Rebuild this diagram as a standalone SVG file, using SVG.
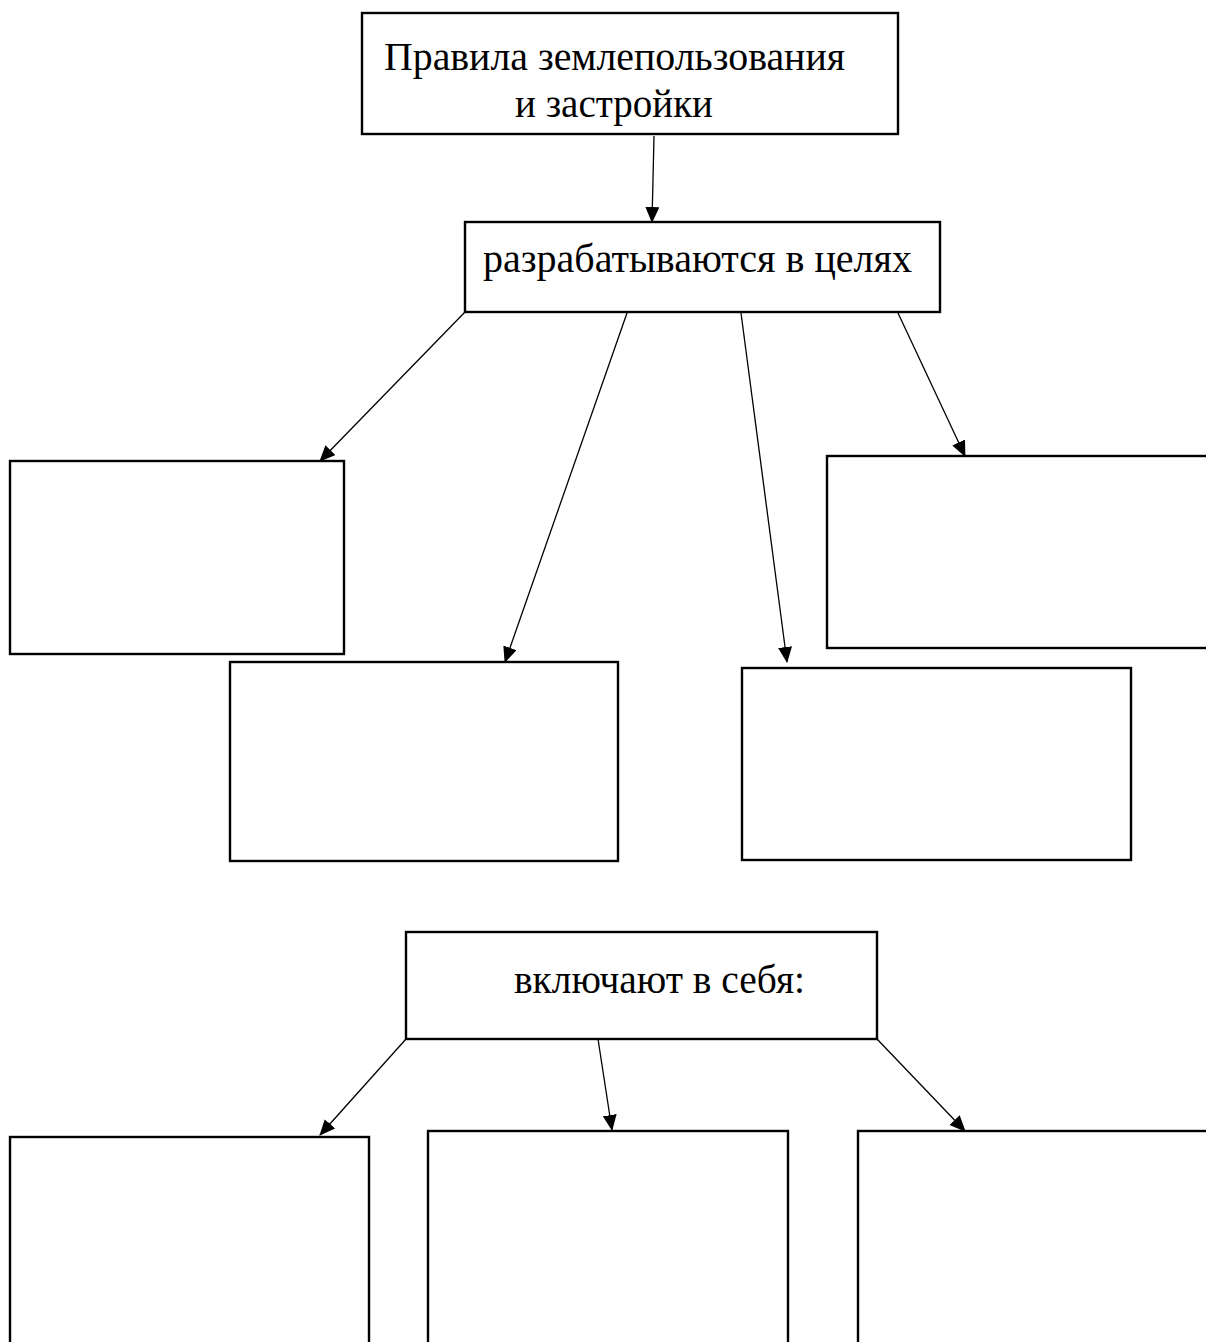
<svg xmlns="http://www.w3.org/2000/svg" width="1206" height="1342" viewBox="0 0 1206 1342">
<style>
.box{fill:#fff;stroke:#000;stroke-width:2.4}
.lbl{font-family:"Liberation Serif","Times New Roman",serif;font-size:40px;fill:#000}
.con{stroke:#000;stroke-width:1.3;fill:none;marker-end:url(#ah)}
</style>
<defs>
<marker id="ah" markerUnits="userSpaceOnUse" markerWidth="16" markerHeight="14" refX="15" refY="7" orient="auto">
<path d="M0,0 L16,7 L0,14 Z" fill="#000"/>
</marker>
</defs>
<rect width="1206" height="1342" fill="#fff"/>
<g id="connectors">
<line class="con" x1="654" y1="136" x2="652" y2="222"/>
<line class="con" x1="465" y1="312" x2="320" y2="461"/>
<line class="con" x1="627" y1="313" x2="505" y2="662"/>
<line class="con" x1="741" y1="313" x2="787" y2="662"/>
<line class="con" x1="898" y1="313" x2="965" y2="456"/>
<line class="con" x1="406" y1="1039" x2="320" y2="1135"/>
<line class="con" x1="598" y1="1039" x2="612" y2="1130"/>
<line class="con" x1="877" y1="1039" x2="965" y2="1131"/>
</g>
<g id="node-top">
<rect class="box" x="362" y="13" width="536" height="121"/>
<text class="lbl" x="384" y="70" textLength="461" lengthAdjust="spacingAndGlyphs">Правила землепользования</text>
<text class="lbl" x="515" y="117" textLength="198" lengthAdjust="spacingAndGlyphs">и застройки</text>
</g>
<g id="node-goals">
<rect class="box" x="465" y="222" width="475" height="90"/>
<text class="lbl" x="483" y="272" textLength="429" lengthAdjust="spacingAndGlyphs">разрабатываются в целях</text>
</g>
<g id="node-goal1"><rect class="box" x="10" y="461" width="334" height="193"/></g>
<g id="node-goal2"><rect class="box" x="230" y="662" width="388" height="199"/></g>
<g id="node-goal3"><rect class="box" x="742" y="668" width="389" height="192"/></g>
<g id="node-goal4"><rect class="box" x="827" y="456" width="400" height="192"/></g>
<g id="node-includes">
<rect class="box" x="406" y="932" width="471" height="107"/>
<text class="lbl" x="514" y="993" textLength="291" lengthAdjust="spacingAndGlyphs">включают в себя:</text>
</g>
<g id="node-inc1"><rect class="box" x="10" y="1137" width="359" height="240"/></g>
<g id="node-inc2"><rect class="box" x="428" y="1131" width="360" height="240"/></g>
<g id="node-inc3"><rect class="box" x="858" y="1131" width="370" height="240"/></g>
</svg>
